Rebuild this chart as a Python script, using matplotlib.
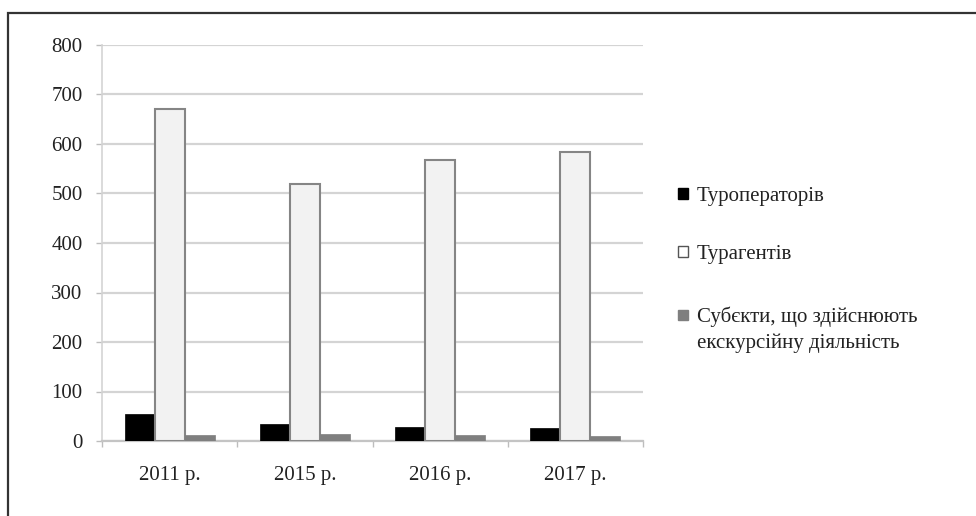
import numpy as np
import matplotlib
matplotlib.use("Agg")
import matplotlib.pyplot as plt
from matplotlib.patches import Rectangle

## Data
years = ["2011 р.", "2015 р.", "2016 р.", "2017 р."]
tour_operators = [55, 34, 29, 26]
travel_agents = [671, 520, 567, 584]
excursion_subjects = [13, 14, 13, 11]
series_names = ["Туроператорів",
                "Турагентів",
                "Субєкти, що здійснюють\nекскурсійну діяльність"]
series_fill = ["black", "white", "#7f7f7f"]
series_edge = ["black", "#555555", "#7f7f7f"]

plt.rcParams["font.family"] = ["Liberation Serif", "DejaVu Serif"]
text_color = "#222222"
grid_color = "#d4d4d4"
W, H = 976, 516

fig = plt.figure(figsize=(W / 100, H / 100), dpi=100)
ax = fig.add_axes([102 / W, 1 - 441 / H, 541 / W, 396 / H])

x = np.arange(len(years))
w = 0.222
ax.bar(x - w, tour_operators, width=w, color="black", edgecolor="black", linewidth=0.5, zorder=3)
ax.bar(x, travel_agents, width=w, color="#f2f2f2", edgecolor="#858585", linewidth=1.5, zorder=3)
ax.bar(x + w, excursion_subjects, width=w, color="#7f7f7f", edgecolor="#7f7f7f", linewidth=0.5, zorder=3)

ax.set_xlim(-0.5, len(years) - 0.5)
ax.set_ylim(0, 800)
ax.set_yticks(range(0, 801, 100))
ax.yaxis.grid(True, color=grid_color, linewidth=1.6, zorder=0)
ax.set_axisbelow(True)

ax.set_xticks(x)
ax.set_xticklabels(years)
ax.set_xticks(np.arange(-0.5, len(years)), minor=True)
ax.tick_params(axis="x", which="major", length=0, pad=18, labelsize=15, labelcolor=text_color)
ax.tick_params(axis="x", which="minor", length=4, width=1, color="#bdbdbd", direction="out")
ax.tick_params(axis="y", length=4, width=1, color="#bdbdbd", pad=10, labelsize=15, labelcolor=text_color)

for side in ["top", "right"]:
    ax.spines[side].set_visible(False)
ax.spines["left"].set_color(grid_color)
ax.spines["left"].set_linewidth(1.2)
ax.spines["bottom"].set_color("#c4c4c4")
ax.spines["bottom"].set_linewidth(1.6)

# legend to the right, drawn by hand so the marker sits on the first line
baselines = [201, 259, 322]
line_step = 26
for name, fc, ec, base in zip(series_names, series_fill, series_edge, baselines):
    fig.patches.append(Rectangle((678 / W, 1 - (base - 2.5) / H), 10 / W, 10 / H,
                                 transform=fig.transFigure, facecolor=fc,
                                 edgecolor=ec, linewidth=1))
    for i, line in enumerate(name.split("\n")):
        fig.text(697 / W, 1 - (base + i * line_step) / H, line, fontsize=15,
                 color=text_color, ha="left", va="baseline")

# outer frame (right and bottom edges run past the picture)
fig.patches.append(Rectangle((8 / W, -0.1), 1.1, 1.1 - 13 / H,
                             transform=fig.transFigure, fill=False,
                             edgecolor="#333333", linewidth=1.6))

fig.savefig("out.png", dpi=100)
